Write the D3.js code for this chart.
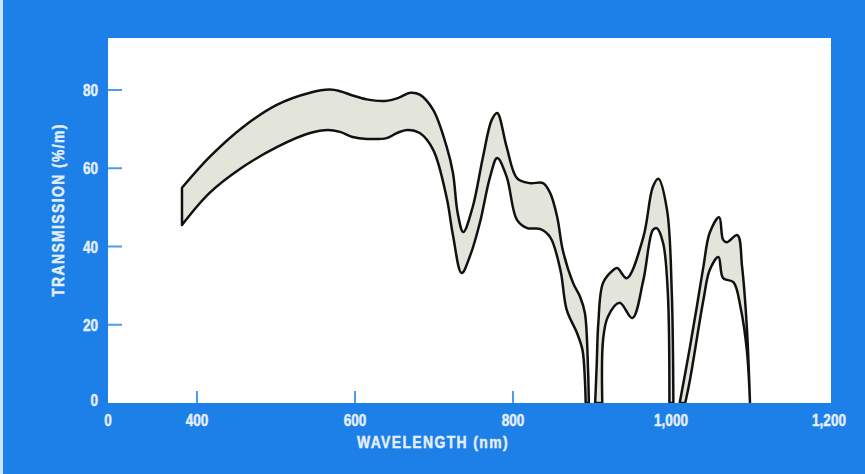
<!DOCTYPE html>
<html><head><meta charset="utf-8">
<script src="https://cdn.jsdelivr.net/npm/d3@7"></script>
<style>html,body{margin:0;padding:0;background:#1c80e8;}svg{display:block;}</style>
</head><body>
<svg id="c" width="865" height="474"></svg>
<script>
// ---- data (wavelength nm, transmission %/m) ----
const xTicks = [0, 400, 600, 800, 1000, 1200];
const xTickMarks = [400, 600, 800, 1000];
const yTicks = [0, 20, 40, 60, 80];
const yTickMarks = [20, 40, 60, 80];

const lobe1UpperNm  = [381,416,458,501,543,568,581,597,615,638,655,670,682,699,716,724,730,737,749,762,773,780,792,805,821,838,847,856,863,876,885,891,895,896];
const lobe1UpperPct = [55.0,62.9,70.5,76.2,79.3,80.1,79.7,78.6,77.6,77.2,78.0,79.3,78.8,74.9,65.5,58.8,48.5,43.7,50.1,62.9,72.3,74.1,65.4,57.5,56.2,56.2,53.7,47.5,39.1,30.7,27.1,23.0,8.4,0];
const lobe1LowerNm  = [381,416,458,501,543,566,581,597,615,640,653,666,682,699,716,724,735,746,758,771,780,792,805,818,834,847,860,868,881,888,891,892];
const lobe1LowerPct = [45.5,53.7,60.3,65.4,69.0,69.8,69.3,68.0,67.5,67.7,69.0,69.8,69.0,64.7,52.5,42.9,33.2,37.8,46.0,57.8,62.6,57.8,46.8,44.7,44.5,42.4,34.0,23.8,17.9,13.5,5.9,0];

const lobe2UpperNm  = [904,906,908,914,927,932,944,965,977,984,995,1001,1003];
const lobe2UpperPct = [0,10,20.4,30.7,34.0,34.5,31.9,42.4,55.2,57.3,49.3,28.1,0];
const lobe2LowerNm  = [913,914,920,935,951,965,977,982,990,996,998];
const lobe2LowerPct = [0,16.1,22.0,25.6,21.7,31.4,44.2,44.7,40.9,28.1,0];

const lobe3UpperNm  = [1011,1024,1033,1041,1049,1061,1066,1071,1084,1090,1096,1100];
const lobe3UpperPct = [0,14.3,25.0,34.8,43.5,47.5,41.7,41.1,42.9,34.8,19.4,0];
const lobe3LowerNm  = [1018,1024,1041,1049,1060,1066,1079,1088,1096,1100];
const lobe3LowerPct = [0,5.9,26.3,34.0,37.3,31.9,30.9,24.5,13.5,0];

const xTitle = "WAVELENGTH (nm)";
const yTitle = "TRANSMISSION (%/m)";

// ---- drawing ----
const W = 865, H = 474;
const plot = {left:108, right:831, top:38, bottom:403};
const svg = d3.select("#c");
const BLUE = "#1c80e8", TXT = "#e4eefa", TICK = "#4d9ce8";
const FONT = "'Liberation Sans',Arial,sans-serif";
const SQ = 0.82; // horizontal condensing of the bold face

svg.append("rect").attr("width", W).attr("height", H).attr("fill", BLUE);
svg.append("rect").attr("x", 0).attr("y", 0).attr("width", 3).attr("height", H).attr("fill", "#cfe2f7");
svg.append("rect").attr("x", plot.left).attr("y", plot.top)
   .attr("width", plot.right - plot.left).attr("height", plot.bottom - plot.top).attr("fill", "#ffffff");

// broken x axis: 0 at origin, then linear section (400..1200 evenly spaced)
const x = d3.scaleLinear().domain([0, 300, 1200]).range([plot.left, 118, 829]);
const y = d3.scaleLinear().domain([0, 80]).range([plot.bottom, 90]);

// ticks
svg.append("g").selectAll("line").data(yTickMarks).join("line")
  .attr("x1", plot.left).attr("x2", plot.left + 14)
  .attr("y1", d => y(d)).attr("y2", d => y(d))
  .attr("stroke", TICK).attr("stroke-width", 2);
svg.append("g").selectAll("line").data(xTickMarks).join("line")
  .attr("x1", d => x(d)).attr("x2", d => x(d))
  .attr("y1", plot.bottom).attr("y2", plot.bottom - 12)
  .attr("stroke", TICK).attr("stroke-width", 2);

// band
const defs = svg.append("defs");
defs.append("clipPath").attr("id", "clip").append("rect")
  .attr("x", plot.left).attr("y", plot.top)
  .attr("width", plot.right - plot.left).attr("height", plot.bottom - plot.top);

const line = d3.line().x(d => x(d[0])).y(d => y(d[1])).curve(d3.curveCatmullRom.alpha(0.5));
const zip = (a, b) => a.map((v, i) => [v, b[i]]);
const lobes = [
  [zip(lobe1UpperNm, lobe1UpperPct), zip(lobe1LowerNm, lobe1LowerPct)],
  [zip(lobe2UpperNm, lobe2UpperPct), zip(lobe2LowerNm, lobe2LowerPct)],
  [zip(lobe3UpperNm, lobe3UpperPct), zip(lobe3LowerNm, lobe3LowerPct)]
];
const band = svg.append("g").attr("clip-path", "url(#clip)");
lobes.forEach(([up, lo]) => {
  const pUp = line(up);
  const pLo = line(lo.slice().reverse());
  const d = pUp + "L" + pLo.slice(1) + "Z";
  band.append("path").attr("d", d)
    .attr("fill", "#e3e4da").attr("stroke", "#111111")
    .attr("stroke-width", 2.5).attr("stroke-linejoin", "round");
});

// condensed bold text helper
function label(px, py, str, opt) {
  const o = Object.assign({anchor: "middle", size: 16.5, spacing: 0, rotate: 0}, opt || {});
  const g = svg.append("g").attr("transform",
    `translate(${px},${py}) rotate(${o.rotate}) scale(${SQ},1)`);
  g.append("text").attr("text-anchor", o.anchor).attr("dominant-baseline", "central")
    .attr("font-family", FONT).attr("font-weight", "bold").attr("font-size", o.size)
    .attr("letter-spacing", o.spacing).attr("fill", TXT)
    .attr("stroke", TXT).attr("stroke-width", 0.5).text(str);
}

yTicks.forEach(d => label(98, y(d) - (d === 0 ? 3 : 0), String(d), {anchor: "end"}));
xTicks.forEach(d => label(x(d), 420, d3.format(",")(d)));

label(433, 442, xTitle, {size: 17, spacing: 1.7});
label(58, 210, yTitle, {size: 17, spacing: 1.7, rotate: -90});
</script>
</body></html>
